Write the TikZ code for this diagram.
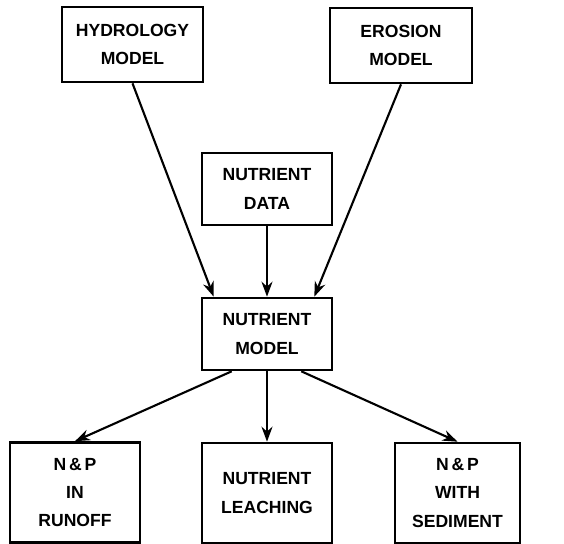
\documentclass[tikz,border=0pt]{standalone}
\usepackage{fontspec}
\setmainfont{Liberation Sans}
\usetikzlibrary{arrows.meta, positioning}

\begin{document}
\begin{tikzpicture}[
        box/.style={draw, line width=1.5pt, align=center, font=\bfseries,
                    minimum width=2.6cm, minimum height=1.44cm, inner sep=2pt},
        tall/.style={box, minimum height=2.0cm},
        arr/.style={-{Stealth[length=3mm, width=2.2mm]}, line width=1.2pt}
      ]
        \useasboundingbox (0,0) rectangle (11.28,-10.88);

        % Inputs
        \node[box, minimum width=2.82cm, minimum height=1.5cm] (hydro) at (2.65,-0.89) {HYDROLOGY\\[4pt]MODEL};
        \node[box, minimum width=2.84cm, minimum height=1.5cm] (eros) at (8.02,-0.91) {EROSION\\[4pt]MODEL};
        \node[box] (data) at (5.34,-3.78) {NUTRIENT\\[4pt]DATA};

        % Model
        \node[box] (model) at (5.34,-6.68) {NUTRIENT\\[4pt]MODEL};

        % Outputs
        \node[tall] (runoff) at (1.5,-9.85) {N\,\&\,P\\[4pt]IN\\[4pt]RUNOFF};
        \node[tall] (leach) at (5.34,-9.86) {NUTRIENT\\[4pt]LEACHING};
        \node[tall, minimum width=2.5cm] (sed) at (9.15,-9.86) {N\,\&\,P\\[4pt]WITH\\[4pt]SEDIMENT};

        % Connections
        \draw[arr] (hydro.south) -- ([xshift=0.26cm]model.north west);
        \draw[arr] (eros.south) -- ([xshift=-0.38cm]model.north east);
        \draw[arr] (data) -- (model);
        \draw[arr] ([xshift=0.62cm]model.south west) -- (runoff.north);
        \draw[arr] (model) -- (leach);
        \draw[arr] ([xshift=-0.64cm]model.south east) -- (sed.north);
      \end{tikzpicture}
\end{document}
